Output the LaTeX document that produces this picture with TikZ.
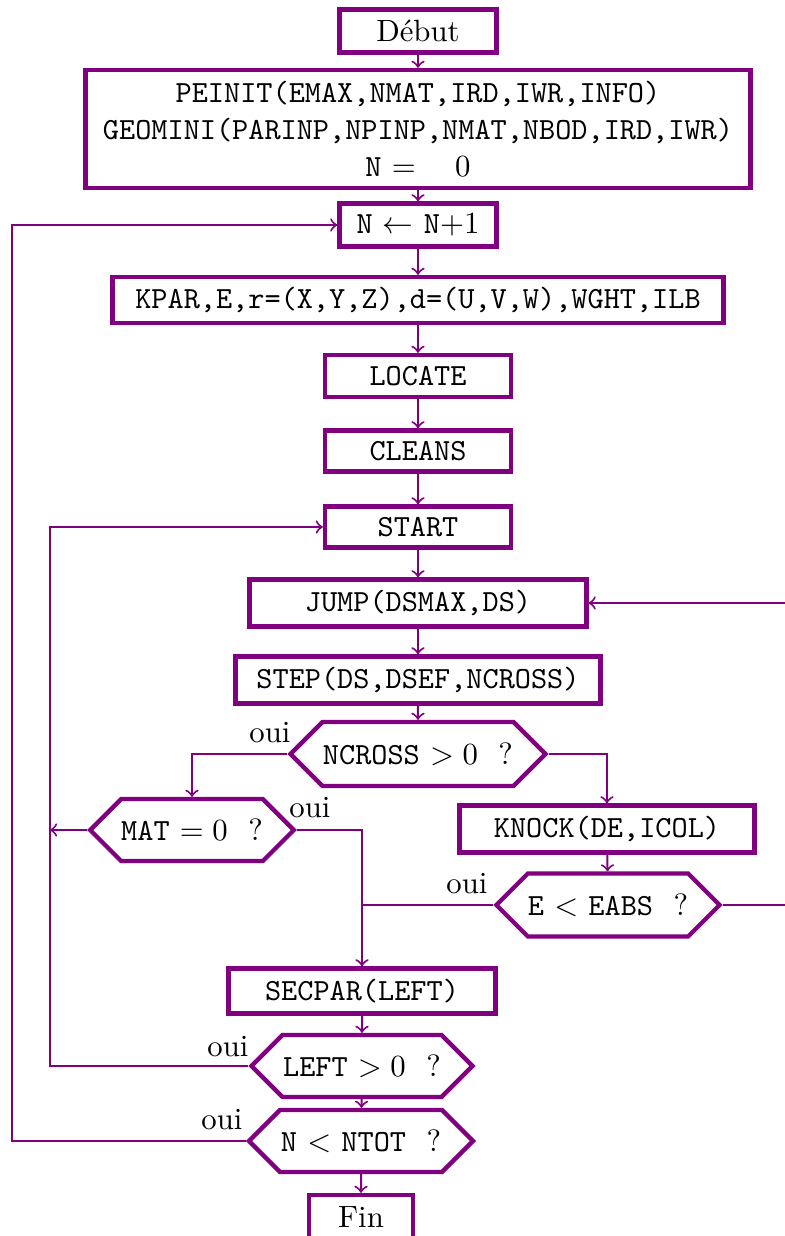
\documentclass[tikz,border=0pt]{standalone}
\usepackage{fontspec}
\usetikzlibrary{shapes.symbols,calc}
\def\pxu{0.325pt}
\tikzset{
  box/.style={draw=violet, line width=1.4pt, rectangle, inner sep=0pt, align=center},
  hexa/.style={draw=violet, line width=1.4pt, signal, signal to=west and east, signal pointer angle=90, inner sep=0pt},
  arr/.style={draw=violet, line width=0.65pt, ->},
  conn/.style={draw=violet, line width=0.65pt},
  lab/.style={inner sep=0pt}
}
\begin{document}
\begin{tikzpicture}[x=0.325pt, y=-0.325pt]
\useasboundingbox (0,0) rectangle (785,1236);
% nodes
\node[box, minimum width=157*\pxu, minimum height=43*\pxu] (debut) at (418,31) {Début};
\node[box, minimum width=665*\pxu, minimum height=118*\pxu] (init) at (418,129)
  {\texttt{PEINIT(EMAX,NMAT,IRD,IWR,INFO)}\\\texttt{GEOMINI(PARINP,NPINP,NMAT,NBOD,IRD,IWR)}\\\texttt{N} $= \quad 0$};
\node[box, minimum width=157*\pxu, minimum height=43*\pxu] (incr) at (418,225) {\texttt{N} $\leftarrow$ \texttt{N}$+1$};
\node[box, minimum width=611*\pxu, minimum height=46*\pxu] (kpar) at (418,300) {\texttt{KPAR,E,r=(X,Y,Z),d=(U,V,W),WGHT,ILB}};
\node[box, minimum width=186*\pxu, minimum height=42*\pxu] (locate) at (418,376) {\texttt{LOCATE}};
\node[box, minimum width=186*\pxu, minimum height=41*\pxu] (cleans) at (418,451) {\texttt{CLEANS}};
\node[box, minimum width=186*\pxu, minimum height=41*\pxu] (start) at (418,527) {\texttt{START}};
\node[box, minimum width=337*\pxu, minimum height=47*\pxu] (jump) at (418,603) {\texttt{JUMP(DSMAX,DS)}};
\node[box, minimum width=365*\pxu, minimum height=47*\pxu] (step) at (418,680) {\texttt{STEP(DS,DSEF,NCROSS)}};
\node[hexa, minimum width=255*\pxu, minimum height=64*\pxu] (ncross) at (418,754) {\texttt{NCROSS} $>0$ \ ?};
\node[hexa, minimum width=203*\pxu, minimum height=62*\pxu] (mat) at (192,830) {\texttt{MAT} $=0$ \ ?};
\node[box, minimum width=295*\pxu, minimum height=47*\pxu] (knock) at (607,829) {\texttt{KNOCK(DE,ICOL)}};
\node[hexa, minimum width=223*\pxu, minimum height=63*\pxu] (eabs) at (608,905) {\texttt{E} $<$ \texttt{EABS} \ ?};
\node[box, minimum width=267*\pxu, minimum height=45*\pxu] (secpar) at (362,991) {\texttt{SECPAR(LEFT)}};
\node[hexa, minimum width=221*\pxu, minimum height=62*\pxu] (leftq) at (362,1066) {\texttt{LEFT} $>0$ \ ?};
\node[hexa, minimum width=224*\pxu, minimum height=62*\pxu] (ntot) at (361,1141) {\texttt{N} $<$ \texttt{NTOT} \ ?};
\node[box, minimum width=104*\pxu, minimum height=44*\pxu] (fin) at (361,1217) {Fin};
% labels
\node[lab] (o1) at (270,733) {oui};
\node[lab] (o2) at (310,808) {oui};
\node[lab] (o3) at (467,884) {oui};
\node[lab] (o4) at (228,1047) {oui};
\node[lab] (o5) at (222,1120) {oui};
% helper coordinates
\coordinate (cA) at (50,0);
\coordinate (cB) at (12,0);
\coordinate (cC) at (788,0);
% connectors
\draw[arr] (debut) -- (init);
\draw[arr] (init) -- (incr);
\draw[arr] (incr) -- (kpar);
\draw[arr] (kpar) -- (locate);
\draw[arr] (locate) -- (cleans);
\draw[arr] (cleans) -- (start);
\draw[arr] (start) -- (jump);
\draw[arr] (jump) -- (step);
\draw[arr] (step) -- (ncross);
\draw[arr] (ncross.west) -| (mat.north);
\draw[arr] (ncross.east) -| (knock.north);
\draw[arr] (knock) -- (eabs);
\draw[arr] (mat.east) -| (secpar.north);
\draw[conn] (eabs.west) -- (eabs.west -| secpar.north);
\draw[arr] (mat.west) -- (cA |- mat.west);
\draw[arr] (eabs.east) -- (cC |- eabs.east) |- (jump.east);
\draw[arr] (secpar) -- (leftq);
\draw[arr] (leftq) -- (ntot);
\draw[arr] (ntot) -- (fin);
\draw[arr] (leftq.west) -- (cA |- leftq.west) |- (start.west);
\draw[arr] (ntot.west) -- (cB |- ntot.west) |- (incr.west);
\end{tikzpicture}
\end{document}
